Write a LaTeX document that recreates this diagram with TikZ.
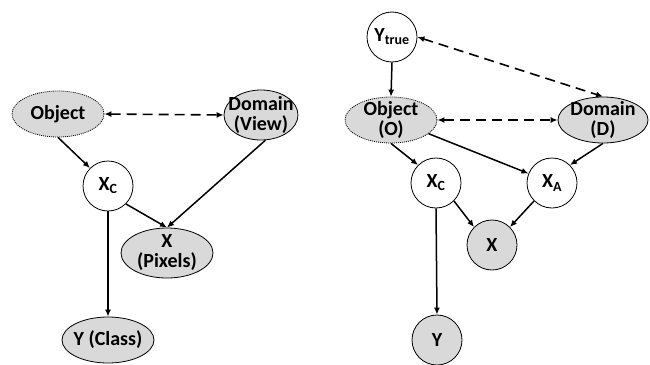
\documentclass[tikz,border=0pt]{standalone}
\usepackage{fontspec}
\setmainfont{Carlito}
\usetikzlibrary{shapes, arrows.meta, positioning}

\begin{document}
\begin{tikzpicture}[x=1pt, y=-1pt,
  obs/.style={ellipse, draw, fill=black!15, inner sep=0pt, minimum width=92pt, minimum height=46pt, line width=0.8pt},
  latent/.style={obs, dash pattern=on 1pt off 1pt},
  var/.style={circle, draw, fill=white, inner sep=0pt, minimum size=50pt, line width=0.8pt, txt},
  obsvar/.style={var, fill=black!15},
  txt/.style={font=\fontsize{20}{20}\selectfont\bfseries, align=center},
  every label/.append style={txt},
  edge/.style={-{Latex[length=7pt,width=6pt]}, line width=1.5pt},
  link/.style={{Latex[length=7pt,width=6pt]}-{Latex[length=7pt,width=6pt]}, line width=1.6pt, dash pattern=on 10pt off 6pt}]
  \useasboundingbox (0,0) rectangle (650,364);

  % left model
  \node[latent, label={center:Object}] (lobj) at (58,114) {};
  \node[obs, minimum width=74pt, minimum height=50pt, label={center:{Domain\\(View)}}] (ldom) at (261,115) {};
  \node[var] (lxc) at (108,186) {X\textsubscript{C}};
  \node[obs, minimum height=50pt, label={center:{X\\(Pixels)}}] (lx) at (167,253) {};
  \node[obs, label={center:Y (Class)}] (ly) at (108,340) {};

  \draw[link] (lobj.east) -- (ldom.west);
  \draw[edge] (lobj.south) -- (lxc.135);
  \draw[edge] (ldom.-80) -- (lx.north);
  \draw[edge] (lxc.-45) -- (lx.north);
  \draw[edge] (lxc.south) -- (ly.north);

  % right model
  \node[var] (ryt) at (392,37) {Y\textsubscript{true}};
  \node[latent, label={center:{Object\\(O)}}] (robj) at (391,120) {};
  \node[obs, minimum width=90pt, label={center:{Domain\\(D)}}] (rdom) at (603,120) {};
  \node[var] (rxc) at (436,183) {X\textsubscript{C}};
  \node[var] (rxa) at (552,183) {X\textsubscript{A}};
  \node[obsvar] (rx) at (492,245) {X};
  \node[obsvar] (ry) at (437,340) {Y};

  \draw[edge] (ryt.south) -- (robj.north);
  \draw[link] (ryt.east) -- (rdom.north);
  \draw[link] (robj.east) -- (rdom.west);
  \draw[edge] (robj.south) -- (rxc.135);
  \draw[edge] (robj.-20) -- (rxa.158);
  \draw[edge] (rdom.south) -- (rxa.45);
  \draw[edge] (rxc.-45) -- (rx.135);
  \draw[edge] (rxa.-135) -- (rx.45);
  \draw[edge] (rxc.south) -- (ry.north);
\end{tikzpicture}
\end{document}
